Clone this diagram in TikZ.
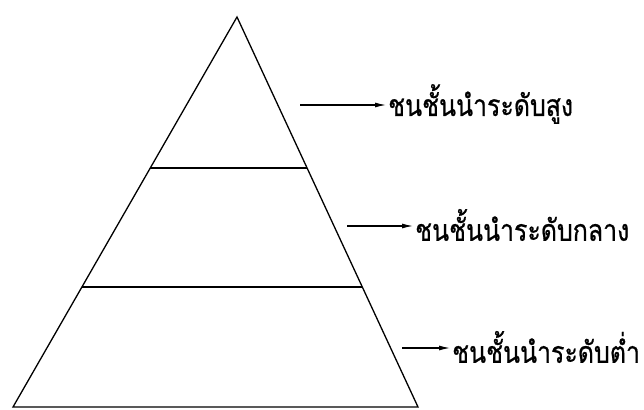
\documentclass[tikz,border=0pt]{standalone}
\usepackage{fontspec}
\newfontfamily\thaifont[Script=Thai,FakeStretch=0.83,FakeBold=0.6]{Loma}
\usetikzlibrary{arrows.meta,calc}

\begin{document}
\begin{tikzpicture}[x=1pt,y=-1pt,
 edge/.style={line width=1.3pt},
 level/.style={font=\thaifont\fontsize{30}{32}\selectfont,anchor=west,inner sep=2pt},
 point/.style={-{Latex[length=11pt,width=5pt]},line width=1.1pt}]
\useasboundingbox (0,0) rectangle (644,409);

\coordinate (apex) at (237,17);
\coordinate (left) at (13,407);
\coordinate (right) at (418,407);
\draw[edge] (left) -- (apex) -- (right) -- cycle;
\draw[edge] ($(apex)!.387!(left)$) -- ($(apex)!.387!(right)$);
\draw[edge] ($(apex)!.692!(left)$) -- ($(apex)!.692!(right)$);

\node[level] (high) at (386,104) {ชนชั้นนำระดับสูง};
\node[level] (middle) at (413,225) {ชนชั้นนำระดับกลาง};
\node[level] (low) at (450,347) {ชนชั้นนำระดับต่ำ};
\coordinate (h0) at (300,105);
\coordinate (m0) at (347,226);
\coordinate (l0) at (402,348);
\draw[point] (h0) -- (high.west |- h0);
\draw[point] (m0) -- (middle.west |- m0);
\draw[point] (l0) -- (low.west |- l0);
\end{tikzpicture}
\end{document}
